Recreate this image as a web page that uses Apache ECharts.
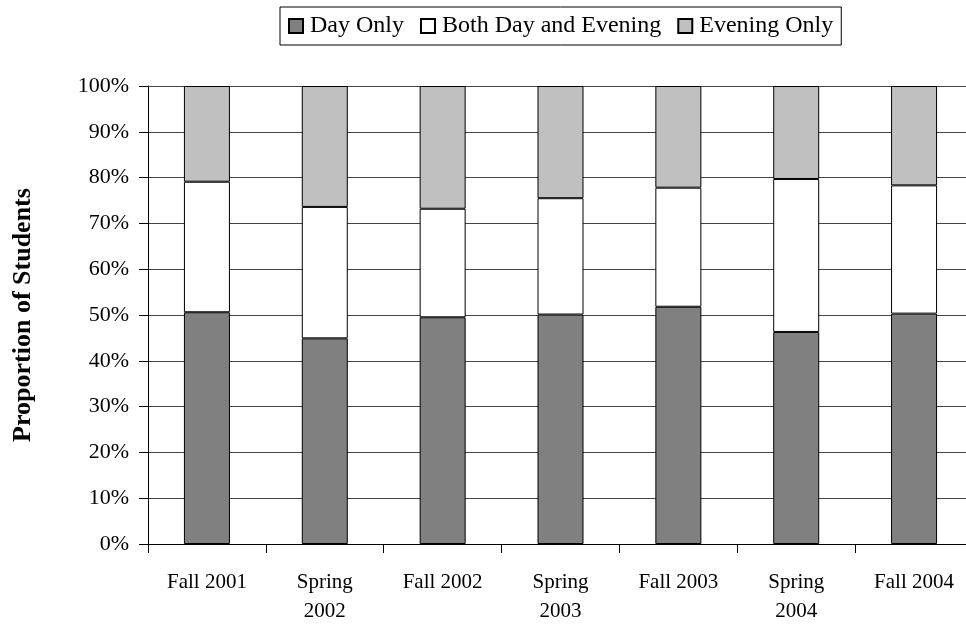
<!DOCTYPE html>
<html>
<head>
<meta charset="utf-8">
<script src="https://cdn.jsdelivr.net/npm/echarts@6/dist/echarts.min.js"></script>
<style>
  html, body { margin: 0; padding: 0; background: #fff; }
  #chart { width: 966px; height: 630px; }
</style>
</head>
<body>
<div id="chart"></div>
<script>
// terms on the x axis
var terms = ["Fall 2001", "Spring\n2002", "Fall 2002", "Spring\n2003", "Fall 2003", "Spring\n2004", "Fall 2004"];
// percent of students
var dayOnly = [50.6, 44.9, 49.5, 50.1, 51.8, 46.3, 50.3];
var bothDayEvening = [28.5, 28.7, 23.7, 25.4, 26.0, 33.4, 28.0];
var eveningOnly = [20.9, 26.4, 26.8, 24.5, 22.2, 20.3, 21.7];

var font = "'Liberation Serif', 'DejaVu Serif', serif";

var chart = echarts.init(document.getElementById("chart"));

function barSeries(name, values, color) {
  return {
    name: name,
    type: "bar",
    stack: "total",
    barWidth: 46,
    data: values,
    itemStyle: {
      color: color,
      borderColor: "#000",
      borderWidth: 1
    },
    emphasis: { disabled: true }
  };
}

chart.setOption({
  backgroundColor: "#fff",
  animation: false,
  textStyle: { fontFamily: font, color: "#000" },
  legend: {
    left: 280,
    top: 7,
    padding: [7, 8, 7, 8],
    borderColor: "#000",
    borderWidth: 1,
    itemWidth: 14,
    itemHeight: 14,
    itemGap: 16,
    icon: "rect",
    textStyle: { fontFamily: font, fontSize: 24, color: "#000", padding: [0, 0, 0, 2] },
    data: ["Day Only", "Both Day and Evening", "Evening Only"]
  },
  grid: {
    left: 148,
    top: 86,
    width: 825,
    height: 458,
    outerBoundsMode: "none"
  },
  xAxis: {
    type: "category",
    data: terms,
    axisLine: { lineStyle: { color: "#000", width: 1 } },
    axisTick: { show: true, length: 9, lineStyle: { color: "#000" } },
    axisLabel: {
      interval: 0,
      margin: 24,
      fontFamily: font,
      fontSize: 21,
      color: "#000",
      lineHeight: 29
    }
  },
  yAxis: {
    type: "value",
    min: 0,
    max: 100,
    interval: 10,
    name: "Proportion of Students",
    nameLocation: "middle",
    nameGap: 112,
    nameTextStyle: { fontFamily: font, fontSize: 26, fontWeight: "bold", color: "#000" },
    axisLine: { show: true, lineStyle: { color: "#000", width: 1 } },
    axisTick: { show: true, length: 9, lineStyle: { color: "#000" } },
    splitLine: { show: true, lineStyle: { color: "#444", width: 1 } },
    axisLabel: {
      margin: 19,
      fontFamily: font,
      fontSize: 22,
      color: "#000",
      formatter: "{value}%"
    }
  },
  series: [
    barSeries("Day Only", dayOnly, "#808080"),
    barSeries("Both Day and Evening", bothDayEvening, "#ffffff"),
    barSeries("Evening Only", eveningOnly, "#c0c0c0")
  ]
});
</script>
</body>
</html>
